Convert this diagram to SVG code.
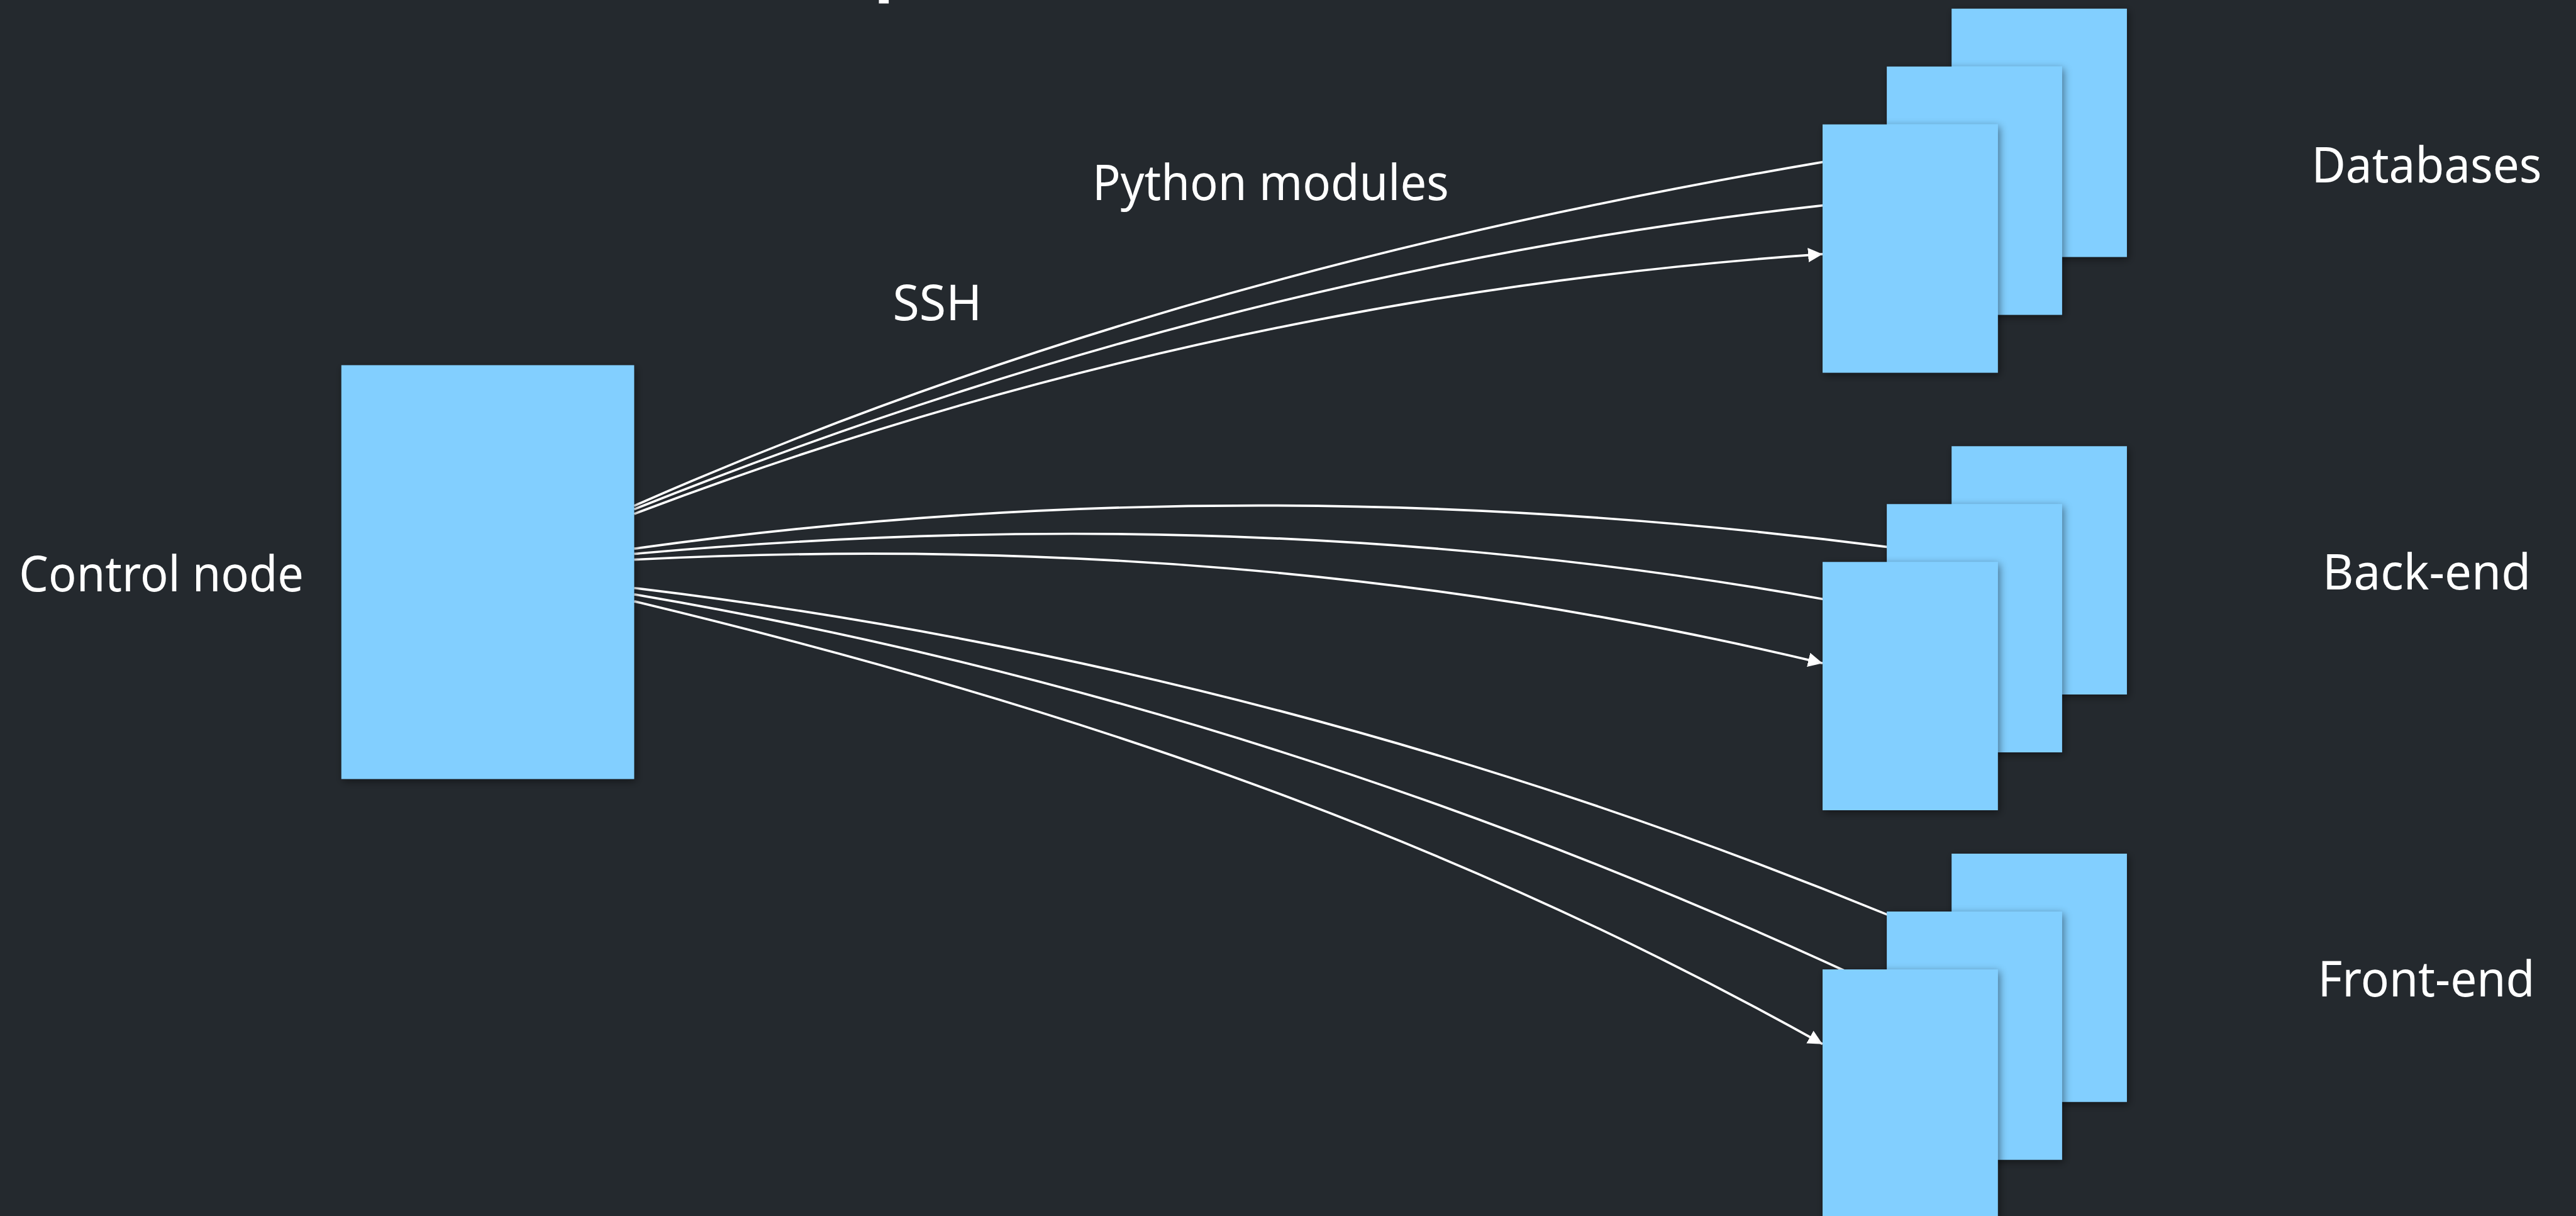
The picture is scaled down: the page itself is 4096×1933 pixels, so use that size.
<svg xmlns="http://www.w3.org/2000/svg" width="4096" height="1933" viewBox="0 0 4096 1933">
<defs>
<style>
.bg{fill:#24292e}
.box{fill:#82cfff;filter:url(#sh)}
.lbl{fill:#ffffff;font-family:"Noto Sans","Liberation Sans",sans-serif;font-size:86px}
.con{fill:none;stroke:#ffffff;stroke-width:4}
</style>
<filter id="sh" x="-15%" y="-15%" width="140%" height="140%">
<feDropShadow dx="3" dy="4" stdDeviation="7" flood-color="#000000" flood-opacity="0.45"/>
</filter>
<marker id="arr" markerUnits="userSpaceOnUse" markerWidth="26" markerHeight="26" refX="25" refY="12.5" orient="auto" viewBox="0 0 26 26">
<path d="M0,0 L25,12.5 L0,25 Z" fill="#ffffff"/>
</marker>
</defs>
<rect class="bg" x="0" y="0" width="4096" height="1933"/>
<g transform="scale(0.92)">
<rect x="1519" y="0" width="17" height="6" fill="#ffffff"/>
<g id="connectors">
<path class="con" d="M1096,874 C1780.7,572.7 2465.3,396.4 3150,280 L3175,276"/>
<path class="con" d="M1096,880 C1780.7,606.1 2465.3,430.3 3150,355 L3175,352"/>
<path class="con" d="M1096,888 C1780.7,627.8 2465.3,486.9 3150,439" marker-end="url(#arr)"/>
<path class="con" d="M1096,948 C1817.7,847 2539.3,851.2 3261,945 L3285,948"/>
<path class="con" d="M1096,957 C1780.7,895.4 2465.3,911.8 3150,1035 L3175,1039"/>
<path class="con" d="M1096,967 C1780.7,932.8 2465.3,981.7 3150,1146" marker-end="url(#arr)"/>
<path class="con" d="M1096,1016 C1817.7,1102.6 2539.3,1284.1 3261,1580 L3285,1590"/>
<path class="con" d="M1096,1027 C1791.7,1145.3 2487.3,1355 3183,1675 L3205,1685"/>
<path class="con" d="M1096,1039 C1780.7,1203.3 2465.3,1420.6 3150,1804" marker-end="url(#arr)"/>
</g>
<g id="control-node">
<rect class="box" x="590" y="631" width="506" height="715"/>
<text class="lbl" x="33" y="1022" textLength="492" lengthAdjust="spacingAndGlyphs">Control node</text>
</g>
<g id="databases">
<rect class="box" x="3373" y="15" width="303" height="429"/>
<rect class="box" x="3261" y="115" width="303" height="429"/>
<rect class="box" x="3150" y="215" width="303" height="429"/>
<text class="lbl" x="3995" y="315" textLength="398" lengthAdjust="spacingAndGlyphs">Databases</text>
</g>
<g id="back-end">
<rect class="box" x="3373" y="771" width="303" height="429"/>
<rect class="box" x="3261" y="871" width="303" height="429"/>
<rect class="box" x="3150" y="971" width="303" height="429"/>
<text class="lbl" x="4014" y="1019" textLength="360" lengthAdjust="spacingAndGlyphs">Back-end</text>
</g>
<g id="front-end">
<rect class="box" x="3373" y="1475" width="303" height="429"/>
<rect class="box" x="3261" y="1575" width="303" height="429"/>
<rect class="box" x="3150" y="1675" width="303" height="429"/>
<text class="lbl" x="4006" y="1722" textLength="375" lengthAdjust="spacingAndGlyphs">Front-end</text>
</g>
<g id="labels">
<text class="lbl" x="1888" y="346" textLength="616" lengthAdjust="spacingAndGlyphs">Python modules</text>
<text class="lbl" x="1543" y="553" textLength="154" lengthAdjust="spacingAndGlyphs">SSH</text>
</g>
</g>
</svg>
